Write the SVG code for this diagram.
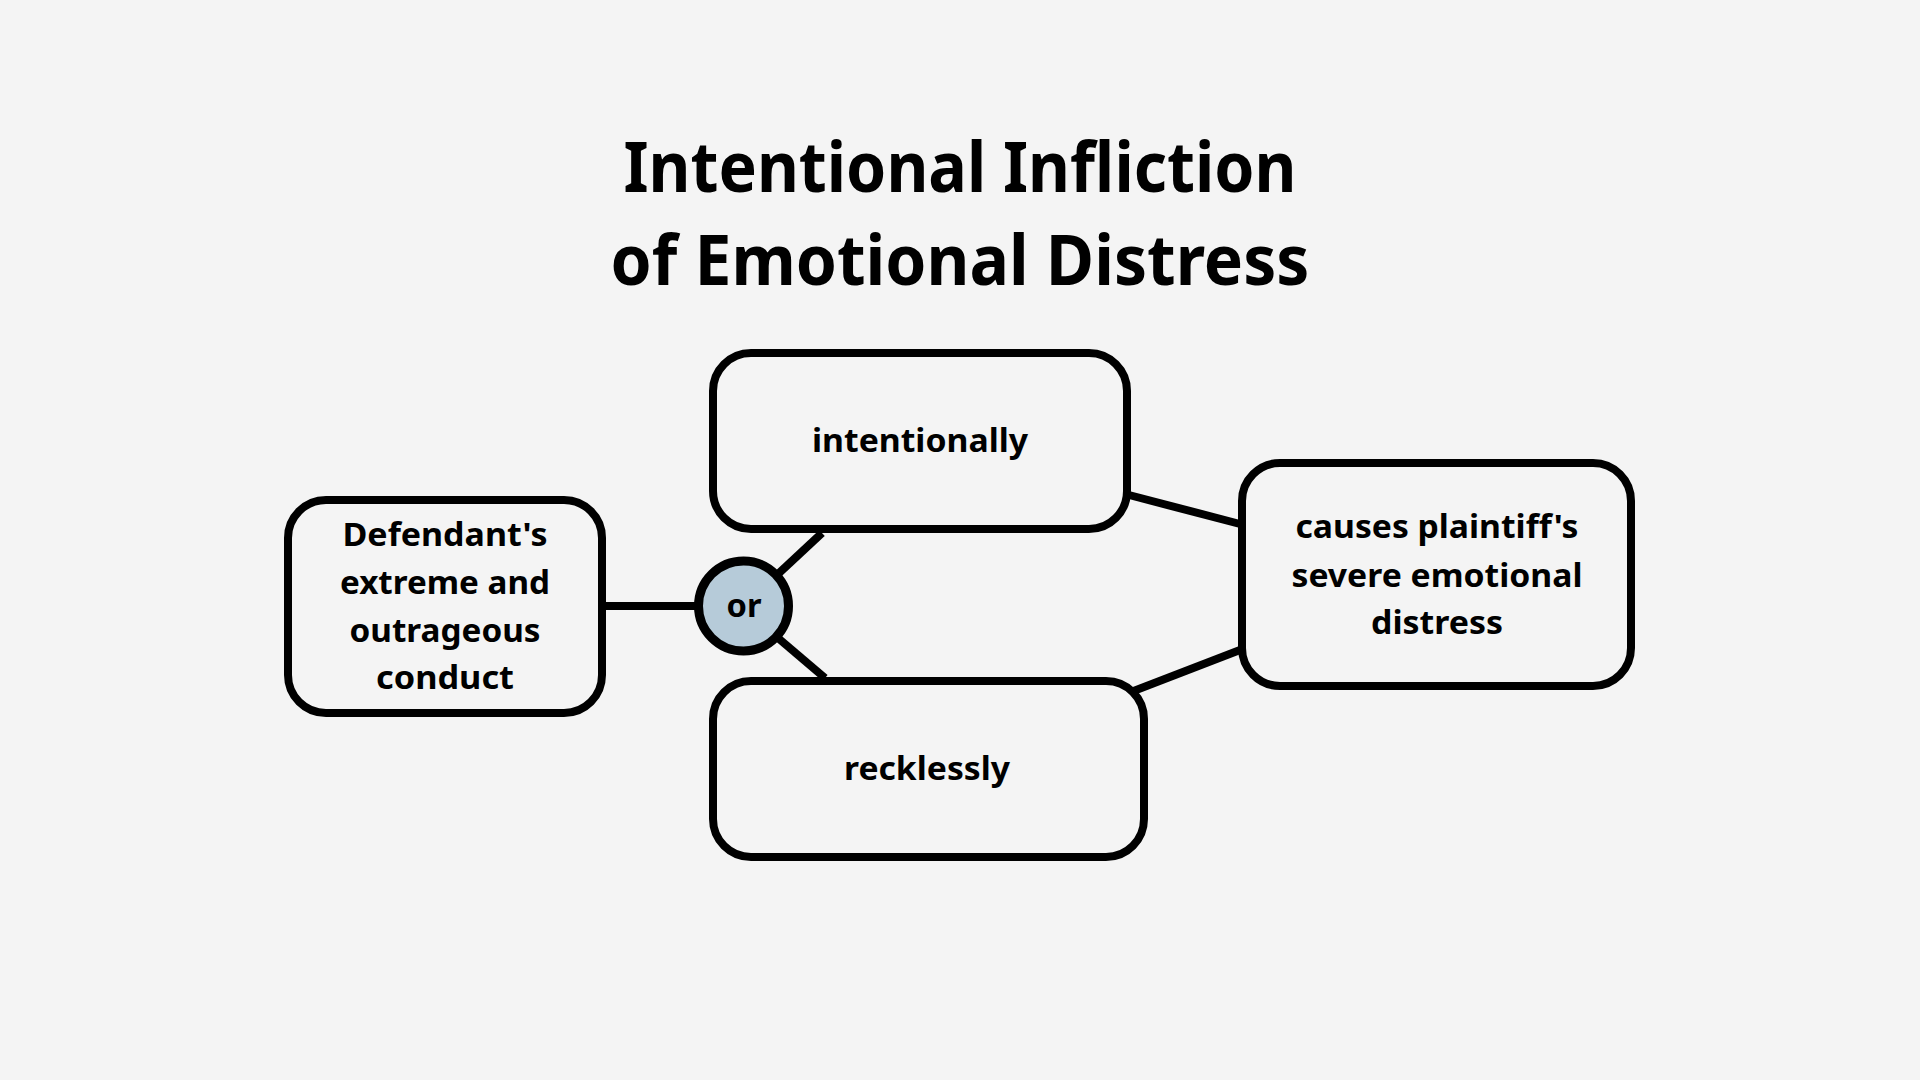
<svg xmlns="http://www.w3.org/2000/svg" width="1920" height="1080" viewBox="0 0 1920 1080">
  <style>
    .bg { fill: #f4f4f4; }
    .box { fill: #f4f4f4; stroke: #000; stroke-width: 8; }
    .or { fill: #b6cbd9; stroke: #000; stroke-width: 9; }
    .conn { stroke: #000; stroke-width: 8; fill: none; }
    .title { font-family: "Noto Sans", "Open Sans", sans-serif; font-weight: 700; font-size: 70px; fill: #000; text-anchor: middle; }
    .label { font-family: "Noto Sans", "Open Sans", sans-serif; font-weight: 700; font-size: 33px; fill: #000; text-anchor: middle; }
  </style>
  <rect class="bg" x="0" y="0" width="1920" height="1080"/>

  <g id="title">
    <text class="title" x="960" y="192" textLength="673" lengthAdjust="spacingAndGlyphs">Intentional Infliction</text>
    <text class="title" x="960" y="285" textLength="699" lengthAdjust="spacingAndGlyphs">of Emotional Distress</text>
  </g>

  <g id="connectors">
    <line class="conn" x1="604" y1="606" x2="697" y2="606"/>
    <line class="conn" x1="778" y1="574" x2="822" y2="533"/>
    <line class="conn" x1="778" y1="638" x2="825" y2="678"/>
    <line class="conn" x1="1129" y1="495" x2="1240" y2="524"/>
    <line class="conn" x1="1131" y1="692" x2="1240" y2="650"/>
  </g>

  <g id="node-conduct">
    <rect class="box" x="288" y="500" width="314" height="213" rx="38" ry="38"/>
    <text class="label" x="445" y="546" textLength="205" lengthAdjust="spacingAndGlyphs">Defendant's</text>
    <text class="label" x="445" y="594" textLength="210" lengthAdjust="spacingAndGlyphs">extreme and</text>
    <text class="label" x="445" y="642" textLength="191" lengthAdjust="spacingAndGlyphs">outrageous</text>
    <text class="label" x="445" y="689" textLength="138" lengthAdjust="spacingAndGlyphs">conduct</text>
  </g>

  <g id="node-or">
    <circle class="or" cx="743.5" cy="606" r="45"/>
    <text class="label" x="744" y="617" textLength="35" lengthAdjust="spacingAndGlyphs">or</text>
  </g>

  <g id="node-intentionally">
    <rect class="box" x="713" y="353" width="414" height="176" rx="38" ry="38"/>
    <text class="label" x="920" y="452" textLength="216" lengthAdjust="spacingAndGlyphs">intentionally</text>
  </g>

  <g id="node-recklessly">
    <rect class="box" x="713" y="681" width="431" height="176" rx="38" ry="38"/>
    <text class="label" x="927" y="780" textLength="166" lengthAdjust="spacingAndGlyphs">recklessly</text>
  </g>

  <g id="node-distress">
    <rect class="box" x="1242" y="463" width="389" height="223" rx="38" ry="38"/>
    <text class="label" x="1437" y="538" textLength="283" lengthAdjust="spacingAndGlyphs">causes plaintiff's</text>
    <text class="label" x="1437" y="587" textLength="291" lengthAdjust="spacingAndGlyphs">severe emotional</text>
    <text class="label" x="1437" y="634" textLength="132" lengthAdjust="spacingAndGlyphs">distress</text>
  </g>
</svg>
